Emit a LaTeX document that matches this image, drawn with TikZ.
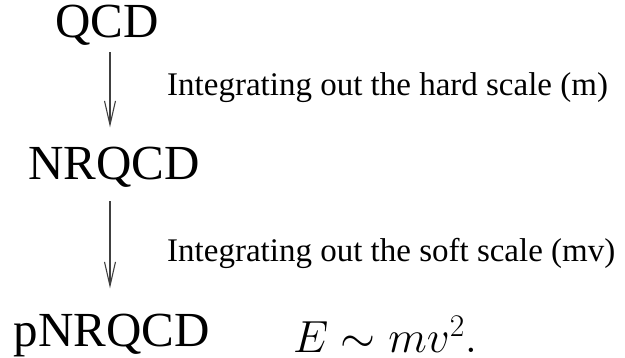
\documentclass[tikz,border=0pt]{standalone}
\usepackage{fix-cm}
\usepackage{fontspec}
\setmainfont{Liberation Serif}
\usetikzlibrary{arrows.meta,positioning}

\begin{document}
\begin{tikzpicture}[
    x=1pt, y=-1pt,
    every node/.style={inner sep=0pt},
    theory/.style={font=\fontsize{49}{55}\selectfont, anchor=base},
    scalelabel/.style={font=\fontsize{33}{38}\selectfont, anchor=base west},
    arrow/.style={line width=1.1pt, draw=black!75, -{Straight Barb[length=24pt,width=11pt]}}
]
\useasboundingbox (0,0) rectangle (625,358);

% effective theories
\node[theory] (qcd) at (107,38) {QCD};
\node[theory] (nrqcd) at (114,180) {NRQCD};
\node[theory] (pnrqcd) at (112,347) {pNRQCD};
\node[anchor=base west, font=\fontsize{45}{50}\selectfont] (energy) at (293,353) {$E \sim mv^2.$};

% matching steps
\node[scalelabel] (hard) at (167,96) {Integrating out the hard scale (m)};
\node[scalelabel] (soft) at (167,262) {Integrating out the soft scale (mv)};

% arrows
\draw[arrow] ([xshift=3pt,yshift=-6pt]qcd.south) -- ([xshift=-4pt,yshift=20pt]nrqcd.north);
\draw[arrow] ([xshift=-4pt,yshift=-13pt]nrqcd.south) -- ([xshift=-2pt,yshift=26pt]pnrqcd.north);

\end{tikzpicture}
\end{document}
